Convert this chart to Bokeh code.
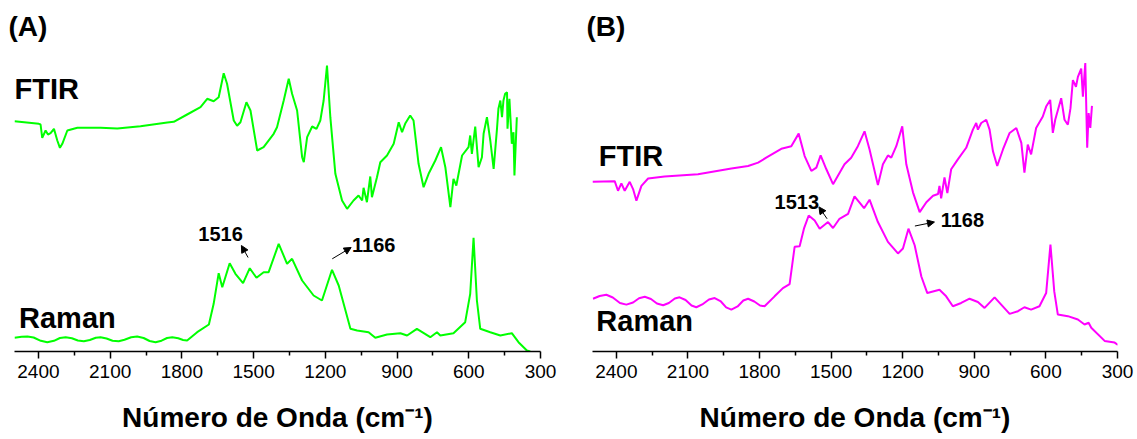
from bokeh.plotting import figure
from bokeh.models import Range1d, FixedTicker, Label, Arrow, NormalHead
from bokeh.layouts import row
from bokeh.embed import file_html
from bokeh.resources import INLINE

# ---------------- data (wavenumber cm-1, intensity a.u. with offsets) ----------------
ftir_a_wn = [2500, 2398, 2391, 2384, 2370, 2360, 2349, 2335, 2321, 2310, 2300, 2279, 2237, 2140, 2070,
             1973, 1861, 1834, 1778, 1722, 1694, 1667, 1646, 1625, 1611, 1583, 1569, 1555, 1530, 1513,
             1485, 1458, 1416, 1402, 1374, 1353, 1339, 1318, 1297, 1290, 1276, 1255, 1237, 1221, 1207,
             1193, 1179, 1158, 1130, 1109, 1082, 1061, 1046, 1040, 1026, 1012, 1005, 984, 970, 942,
             914, 893, 879, 865, 845, 831, 810, 789, 768, 740, 716, 698, 677, 664, 652, 628, 601, 594,
             587, 573, 559, 545, 538, 524, 510, 496, 482, 476, 468, 461, 455, 448, 440, 438, 430, 420,
             413, 409, 399]
ftir_a_int = [230.3, 227.7, 227.0, 213.7, 221.0, 217.0, 218.3, 222.7, 211.0, 203.7, 207.7, 221.0, 223.7,
              223.7, 223.0, 225.3, 229.0, 229.7, 237.0, 244.3, 252.7, 250.3, 254.3, 278.3, 267.7, 231.0,
              225.7, 229.3, 249.3, 241.0, 201.0, 204.3, 217.7, 224.3, 251.0, 272.7, 257.7, 241.0, 194.3,
              189.3, 214.3, 225.0, 222.7, 231.0, 251.0, 286.0, 234.3, 177.7, 151.0, 142.7, 151.0, 156.0,
              151.0, 163.7, 149.3, 175.0, 154.3, 174.3, 189.3, 196.0, 207.7, 229.3, 219.3, 228.3, 236.0,
              231.0, 187.7, 164.3, 177.7, 191.0, 204.3, 184.3, 144.3, 172.7, 166.0, 196.0, 204.3, 216.0,
              197.7, 225.0, 184.3, 194.3, 217.7, 234.3, 211.0, 182.7, 222.7, 242.7, 251.0, 234.3, 251.0,
              257.7, 259.3, 222.7, 252.7, 207.7, 219.3, 176.0, 234.3]

raman_a_wn = [2500, 2470, 2446, 2420, 2390, 2363, 2335, 2310, 2286, 2260, 2235, 2210, 2185, 2160, 2140,
              2115, 2090, 2064, 2040, 2012, 1987, 1960, 1935, 1910, 1885, 1862, 1840, 1815, 1795, 1778,
              1736, 1687, 1667, 1646, 1631, 1600, 1576, 1544, 1516, 1488, 1458, 1437, 1395, 1360, 1339,
              1297, 1249, 1214, 1172, 1144, 1095, 1067, 1019, 991, 942, 886, 858, 817, 761, 733, 719,
              664, 615, 594, 580, 566, 552, 510, 468, 420, 392, 357, 343]
raman_a_int = [13.7, 14.7, 15.0, 14.0, 10.7, 9.3, 10.7, 13.5, 14.3, 13.3, 11.0, 10.3, 11.5, 13.8, 14.3,
               13.0, 10.8, 10.3, 11.8, 14.3, 15.0, 13.5, 10.5, 9.3, 10.8, 13.5, 14.3, 13.2, 11.5, 11.0,
               19.3, 27.0, 47.7, 78.3, 64.3, 88.3, 77.7, 68.3, 83.3, 73.7, 79.3, 79.3, 107.7, 87.7, 92.7,
               71.0, 56.0, 51.0, 81.7, 66.0, 22.7, 21.0, 19.3, 13.7, 17.0, 18.3, 16.0, 22.7, 14.3, 19.3,
               16.0, 18.3, 29.3, 57.7, 113.7, 51.0, 22.7, 19.3, 16.0, 18.3, 9.3, 1.0, 0.0]

ftir_b_wn = [2500, 2407, 2393, 2379, 2365, 2344, 2330, 2316, 2295, 2267, 2198, 2058, 1918, 1848, 1806,
             1772, 1709, 1667, 1636, 1611, 1583, 1562, 1544, 1520, 1492, 1444, 1416, 1388, 1360, 1339,
             1304, 1283, 1262, 1248, 1227, 1202, 1185, 1157, 1129, 1101, 1073, 1052, 1046, 1039, 1025,
             1013, 997, 969, 934, 906, 892, 885, 871, 850, 836, 822, 804, 780, 752, 724, 703, 690, 676,
             662, 641, 613, 599, 582, 571, 561, 536, 522, 508, 497, 487, 474, 466, 452, 445, 435, 427,
             421, 414, 407]
ftir_b_int = [171.3, 172.0, 162.3, 169.7, 162.3, 171.3, 164.0, 152.3, 167.3, 174.7, 176.7, 179.0, 184.7,
              187.3, 190.7, 195.7, 204.7, 207.3, 220.0, 197.3, 182.3, 185.7, 198.0, 184.0, 169.0, 189.0,
              195.7, 207.3, 222.3, 204.0, 168.0, 189.0, 198.0, 195.7, 207.3, 227.3, 189.0, 160.7, 140.7,
              150.7, 157.3, 159.0, 167.3, 154.7, 175.7, 160.0, 184.0, 194.0, 205.7, 224.0, 230.7, 224.0,
              230.7, 234.0, 224.0, 202.3, 187.3, 204.0, 220.7, 225.7, 210.7, 180.7, 209.0, 199.0, 225.7,
              237.3, 247.3, 254.0, 220.7, 234.0, 255.7, 234.0, 229.0, 245.7, 274.0, 267.3, 277.3, 285.7,
              257.3, 291.3, 205.7, 240.7, 225.7, 248.0]

raman_b_wn = [2498, 2470, 2442, 2415, 2385, 2358, 2330, 2305, 2281, 2255, 2230, 2204, 2180, 2155, 2135,
              2110, 2085, 2065, 2040, 2012, 1988, 1962, 1940, 1918, 1892, 1868, 1848, 1822, 1798, 1779,
              1737, 1702, 1674, 1653, 1632, 1614, 1594, 1569, 1548, 1513, 1492, 1465, 1429, 1402, 1362,
              1339, 1304, 1262, 1220, 1199, 1176, 1150, 1122, 1097, 1046, 1018, 990, 955, 920, 885, 857,
              815, 752, 717, 690, 662, 627, 599, 581, 565, 550, 508, 466, 438, 421, 410, 354, 312, 298]
raman_b_int = [53.3, 56.0, 57.3, 54.5, 49.0, 47.3, 49.5, 53.8, 55.3, 53.0, 48.5, 46.7, 49.0, 53.5, 54.7,
               52.0, 46.5, 44.7, 47.5, 52.5, 54.0, 50.5, 44.5, 42.3, 45.5, 51.5, 53.3, 50.5, 46.5, 45.7,
               55.7, 64.0, 68.0, 105.7, 106.3, 124.0, 137.3, 132.3, 124.0, 130.7, 124.7, 134.0, 139.0,
               156.7, 144.7, 153.3, 130.7, 110.7, 99.0, 104.0, 124.0, 107.3, 75.7, 59.0, 62.3, 55.7,
               45.7, 49.0, 53.3, 50.0, 44.0, 54.7, 38.0, 40.7, 44.7, 42.3, 45.7, 59.0, 108.0, 60.7, 37.3,
               35.7, 32.3, 27.3, 29.0, 24.0, 10.7, 9.0, 6.7]

major_ticks = [2400, 2100, 1800, 1500, 1200, 900, 600, 300]
minor_ticks = [2250, 1950, 1650, 1350, 1050, 750, 450]
x_title = "Número de Onda (cm⁻¹)"

FONT = "Liberation Sans"
TOP = 43


def panel(width, left, right, axis_h, color, ftir, raman, tag, ftir_lbl, raman_lbl, notes):
    p = figure(width=width, height=439, output_backend="svg", toolbar_location=None,
               x_range=Range1d(2500, 300), y_range=Range1d(0, axis_h - TOP),
               min_border_left=left, min_border_right=right, min_border_top=TOP,
               min_border_bottom=439 - axis_h, y_axis_location=None,
               outline_line_color=None, background_fill_color="white",
               border_fill_color="white")
    p.grid.visible = False
    p.title.text = tag
    p.title.text_font = FONT
    p.title.text_font_size = "28px"
    p.title.text_font_style = "bold"
    p.title.text_color = "black"
    p.title.align = "left"
    p.title.offset = -6
    p.title.standoff = 4

    p.line(ftir[0], ftir[1], line_color=color, line_width=2)
    p.line(raman[0], raman[1], line_color=color, line_width=2)

    ax = p.xaxis[0]
    ax.ticker = FixedTicker(ticks=major_ticks, minor_ticks=minor_ticks)
    ax.axis_line_color = "black"
    ax.axis_line_width = 1.5
    ax.major_tick_line_color = "black"
    ax.major_tick_line_width = 1.5
    ax.minor_tick_line_color = "black"
    ax.minor_tick_line_width = 1.5
    ax.major_tick_in = 0
    ax.major_tick_out = 7
    ax.minor_tick_in = 0
    ax.minor_tick_out = 4
    ax.major_label_text_font = FONT
    ax.major_label_text_font_size = "19px"
    ax.major_label_text_color = "black"
    ax.major_label_standoff = 6
    ax.axis_label = x_title
    ax.axis_label_text_font = FONT
    ax.axis_label_text_font_style = "bold"
    ax.axis_label_text_font_size = "28px"
    ax.axis_label_text_color = "black"
    ax.axis_label_standoff = 21

    for (x, y, t) in (ftir_lbl, raman_lbl):
        p.add_layout(Label(x=x, y=y, text=t, text_font=FONT, text_font_style="bold",
                           text_font_size="29px", text_color="black"))
    for (tx, ty, t, x0, y0, x1, y1) in notes:
        p.add_layout(Label(x=tx, y=ty, text=t, text_font=FONT, text_font_style="bold",
                           text_font_size="20px", text_color="black"))
        p.add_layout(Arrow(x_start=x0, y_start=y0, x_end=x1, y_end=y1, line_color="black",
                           line_width=1,
                           end=NormalHead(size=7, fill_color="black", line_color="black")))
    return p


pa = panel(568, 14, 28, 351, "#00FF00", (ftir_a_wn, ftir_a_int), (raman_a_wn, raman_a_int),
           "(A)", (2500, 247, "FTIR"), (2481, 17.7, "Raman"),
           [(1731, 111, "1516", 1523, 94, 1551, 106),
            (1088, 99.3, "1166", 1171, 92.7, 1092, 104)])
pb = panel(569, 24, 20, 354, "#FF00FF", (ftir_b_wn, ftir_b_int), (raman_b_wn, raman_b_int),
           "(B)", (2474, 181.3, "FTIR"), (2484, 14.7, "Raman"),
           [(1737, 144, "1513", 1517, 134, 1551, 146),
            (1041, 125.7, "1168", 1149, 126.7, 1067, 130.7)])

layout = row(pa, pb)
open("out.html", "w").write(file_html(layout, INLINE))
